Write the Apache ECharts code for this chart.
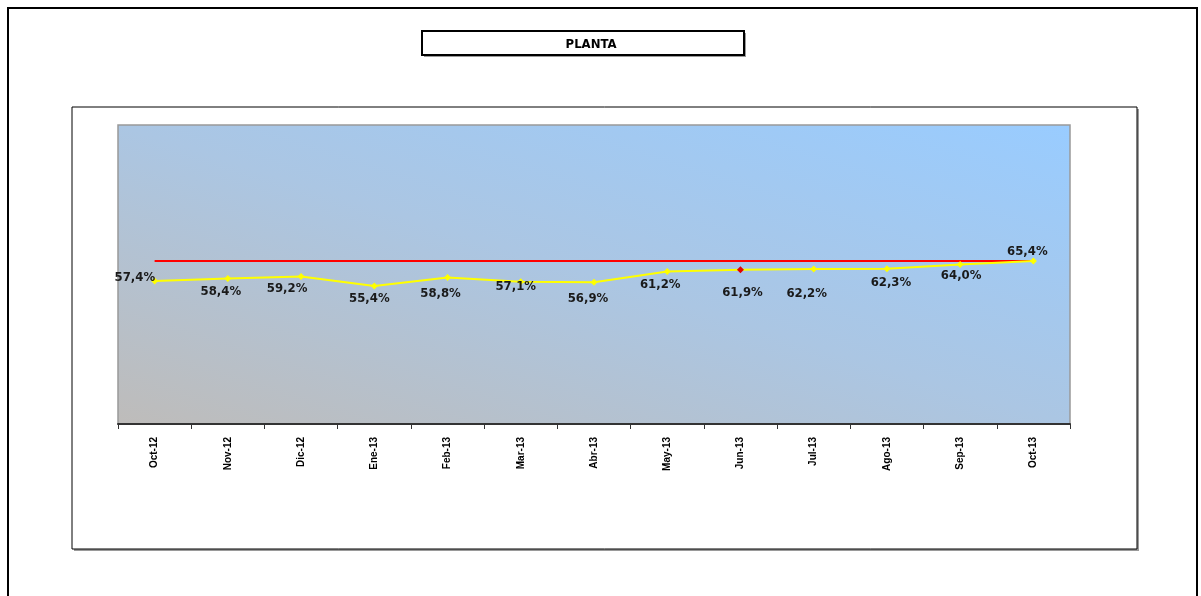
<!DOCTYPE html>
<html>
<head>
<meta charset="utf-8">
<script src="https://cdn.jsdelivr.net/npm/echarts@6/dist/echarts.min.js"></script>
<style>
  html, body { margin: 0; padding: 0; background: #fff; }
  #planta { width: 1201px; height: 596px; }
</style>
</head>
<body>
<div id="planta"></div>
<script>
// Meses y valores
var meses = ['Oct-12', 'Nov-12', 'Dic-12', 'Ene-13', 'Feb-13', 'Mar-13', 'Abr-13',
             'May-13', 'Jun-13', 'Jul-13', 'Ago-13', 'Sep-13', 'Oct-13'];
var valores = [57.4, 58.4, 59.2, 55.4, 58.8, 57.1, 56.9, 61.2, 61.9, 62.2, 62.3, 64.0, 65.4];
var meta = [65.4, 65.4, 65.4, 65.4, 65.4, 65.4, 65.4, 65.4, 65.4, 65.4, 65.4, 65.4, 65.4];

// ajuste fino de las etiquetas (como quedaron colocadas a mano en el original)
var desplazamientoEtiquetas = [[6, -3], [-7, 1.5], [-14, 0.5], [-5, 0.5], [-7, 4], [-5, -7.5], [-6, 4.5],
                               [-7, 1.5], [2, 10.5], [-7, 12.5], [4, 1.5], [1, -0.5], [-6, 2.5]];

var fuente = "'DejaVu Sans Condensed', 'Liberation Sans Narrow', 'Liberation Sans', sans-serif";

var datosLinea = valores.map(function (v, i) {
    var punto = { value: v, label: { offset: desplazamientoEtiquetas[i] } };
    if (i === 0) {
        punto.label.position = 'left';
    } else if (i === valores.length - 1) {
        punto.label.position = 'top';
    }
    if (meses[i] === 'Jun-13') {
        punto.itemStyle = { color: '#e00000' };
    }
    return punto;
});

var chart = echarts.init(document.getElementById('planta'));

var option = {
    backgroundColor: '#ffffff',
    animation: false,
    title: {
        text: 'PLANTA',
        left: 586,
        top: 33,
        textAlign: 'center',
        textStyle: {
            fontFamily: fuente,
            fontSize: 13,
            fontWeight: 'bold',
            color: '#000'
        }
    },
    graphic: [
        {
            type: 'rect',
            shape: { x: 8, y: 8, width: 1189, height: 600 },
            style: { fill: 'none', stroke: '#000', lineWidth: 2 },
            z: -10
        },
        {
            type: 'rect',
            shape: { x: 74, y: 109, width: 1065, height: 442 },
            style: { fill: '#9a9a9a', stroke: 'none' },
            z: -9
        },
        {
            type: 'rect',
            shape: { x: 72, y: 107, width: 1065, height: 442 },
            style: { fill: '#fff', stroke: '#000', lineWidth: 1 },
            z: -8
        },
        {
            type: 'rect',
            shape: { x: 424, y: 33, width: 322, height: 24 },
            style: { fill: '#9a9a9a', stroke: 'none' },
            z: -9
        },
        {
            type: 'rect',
            shape: { x: 422, y: 31, width: 322, height: 24 },
            style: { fill: '#fff', stroke: '#000', lineWidth: 2 },
            z: -8
        }
    ],
    grid: {
        left: 118,
        top: 125,
        width: 952,
        height: 299,
        show: true,
        borderColor: '#999',
        borderWidth: 1.5,
        backgroundColor: {
            type: 'linear',
            global: true,
            x: 118, y: 424, x2: 289, y2: -120,
            colorStops: [
                { offset: 0, color: '#bebcba' },
                { offset: 0.5, color: '#abc6e3' },
                { offset: 1, color: '#99ccff' }
            ]
        }
    },
    xAxis: {
        type: 'category',
        data: meses,
        boundaryGap: true,
        axisLine: { lineStyle: { color: '#333', width: 2 } },
        axisTick: { show: true, length: 5, lineStyle: { color: '#333' } },
        axisLabel: {
            rotate: 90,
            margin: 13,
            fontFamily: "'Liberation Sans', Arial, sans-serif",
            fontSize: 10,
            fontWeight: 'bold',
            color: '#000'
        },
        splitLine: { show: false }
    },
    yAxis: {
        type: 'value',
        min: 0,
        max: 120,
        show: false,
        splitLine: { show: false }
    },
    series: [
        {
            name: 'Meta',
            type: 'line',
            data: meta,
            symbol: 'none',
            lineStyle: { color: '#ff0000', width: 2 },
            z: 2
        },
        {
            name: 'Planta',
            type: 'line',
            data: datosLinea,
            symbol: 'diamond',
            symbolSize: 7,
            itemStyle: { color: '#ffff00' },
            lineStyle: { color: '#ffff00', width: 2 },
            label: {
                show: true,
                position: 'bottom',
                distance: 2,
                formatter: function (p) {
                    return p.value.toFixed(1).replace('.', ',') + '%';
                },
                fontFamily: fuente,
                fontSize: 13,
                fontWeight: 'bold',
                color: '#1a1a1a'
            },
            z: 3
        }
    ]
};

chart.setOption(option);
</script>
</body>
</html>
